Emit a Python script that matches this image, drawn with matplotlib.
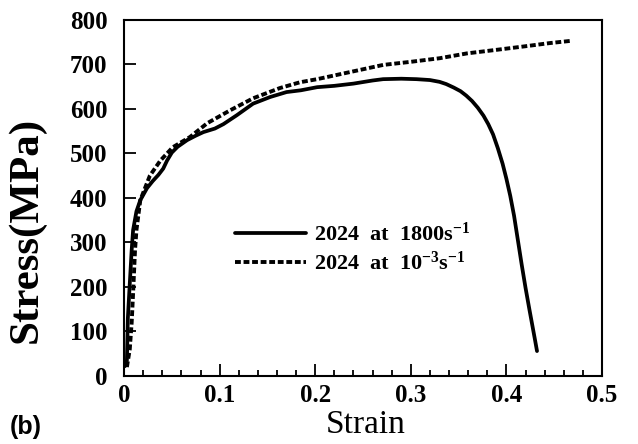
import matplotlib
matplotlib.use('Agg')
import matplotlib.pyplot as plt
from matplotlib.ticker import MultipleLocator

# strain-stress data
strain_fast = [0.001, 0.003, 0.004, 0.006, 0.008, 0.0095, 0.013, 0.017, 0.024,
               0.030, 0.036, 0.041, 0.045, 0.050, 0.056, 0.066, 0.075, 0.083,
               0.095, 0.104, 0.118, 0.135, 0.153, 0.170, 0.185, 0.202, 0.22,
               0.24, 0.26, 0.271, 0.29, 0.306, 0.32, 0.33, 0.337, 0.345, 0.352,
               0.358, 0.364, 0.370, 0.376, 0.381, 0.386, 0.391, 0.396, 0.400,
               0.404, 0.408, 0.412, 0.416, 0.420, 0.424, 0.427, 0.430, 0.432]
stress_fast = [22, 35, 130, 207, 283, 328, 370, 395, 422,
               438, 452, 466, 484, 502, 515, 530, 540, 548,
               556, 566, 586, 612, 627, 638, 642, 649, 652,
               657, 664, 667, 668, 667, 665, 661, 656, 648, 640,
               630, 618, 603, 585, 566, 543, 512, 477, 443,
               405, 360, 305, 250, 198, 150, 115, 80, 56]

strain_slow = [0.003, 0.006, 0.008, 0.0095, 0.0115, 0.013, 0.017, 0.027,
               0.038, 0.051, 0.069, 0.087, 0.111, 0.135, 0.163, 0.184,
               0.202, 0.23, 0.271, 0.30, 0.33, 0.359, 0.39, 0.42, 0.445, 0.467]
stress_slow = [20, 60, 120, 187, 283, 328, 395, 450,
               484, 514, 537, 568, 597, 624, 647, 660,
               667, 680, 699, 706, 714, 725, 733, 741, 748, 753]

labels = ['2024  at  1800s$^{-1}$', '2024  at  10$^{-3}$s$^{-1}$']
x_ticks = [0, 0.1, 0.2, 0.3, 0.4, 0.5]
x_tick_labels = ['0', '0.1', '0.2', '0.3', '0.4', '0.5']
y_ticks = [0, 100, 200, 300, 400, 500, 600, 700, 800]

plt.rcParams['font.family'] = ['Liberation Serif', 'DejaVu Serif']
plt.rcParams['mathtext.default'] = 'regular'

fig = plt.figure(figsize=(6.38, 4.44), dpi=100)
ax = fig.add_axes([0.1944, 0.1532, 0.7492, 0.8018])

ax.plot(strain_fast, stress_fast, color='black', lw=2.7, label=labels[0],
        solid_joinstyle='round', solid_capstyle='round')
ax.plot(strain_slow, stress_slow, color='black', lw=2.8,
        linestyle=(0, (1.5, 0.7)), label=labels[1])

ax.set_xlim(0, 0.5)
ax.set_ylim(0, 800)
ax.set_xticks(x_ticks)
ax.set_xticklabels(x_tick_labels)
ax.set_yticks(y_ticks)
ax.xaxis.set_minor_locator(MultipleLocator(0.02))

ax.tick_params(axis='both', which='both', direction='in', width=1.3,
               top=False, right=False)
ax.tick_params(axis='both', which='major', length=8.5)
ax.tick_params(axis='x', which='minor', length=4.5)
ax.tick_params(axis='y', which='major', pad=12)
ax.tick_params(axis='x', which='major', pad=6)
for lab in ax.get_xticklabels() + ax.get_yticklabels():
    lab.set_fontsize(18)
    lab.set_fontweight('bold')

for sp in ax.spines.values():
    sp.set_linewidth(1.5)

ax.set_xlabel('Strain', fontsize=24)
ax.xaxis.set_label_coords(0.506, -0.095)
ax.xaxis.label.set_va('top')
ax.set_ylabel('Stress(MPa)', fontsize=31, fontweight='bold')
ax.yaxis.set_label_coords(-0.163, 0.41)

leg = ax.legend(loc='center left', bbox_to_anchor=(0.232, 0.358),
                frameon=False, borderpad=0, borderaxespad=0,
                handlelength=3.2, handletextpad=0.35, labelspacing=0.25,
                prop={'family': 'Liberation Serif', 'weight': 'bold', 'size': 16})

fig.text(0.015, 0.012, '(b)', fontsize=18, fontweight='bold',
         family='Liberation Sans', ha='left', va='bottom')

fig.savefig('out.png', dpi=100)
